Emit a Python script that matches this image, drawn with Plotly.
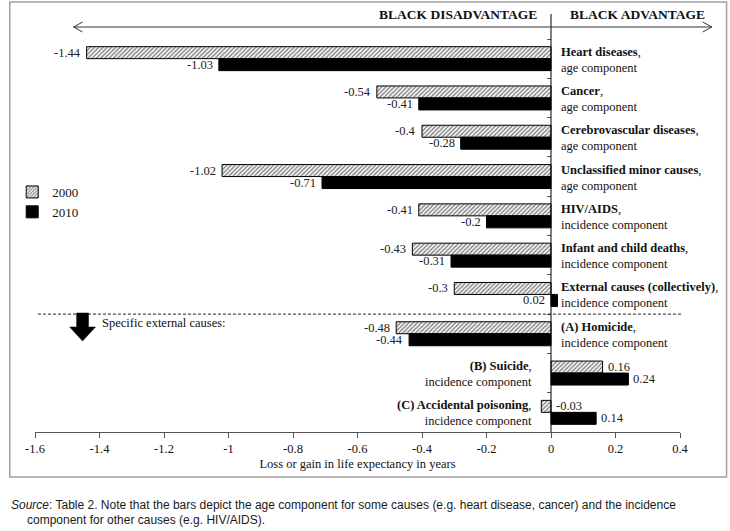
import plotly.graph_objects as go

# ---------------- data ----------------
causes = ["Heart diseases", "Cancer", "Cerebrovascular diseases",
          "Unclassified minor causes", "HIV/AIDS", "Infant and child deaths",
          "External causes (collectively)", "(A) Homicide", "(B) Suicide",
          "(C) Accidental poisoning"]
components = ["age component", "age component", "age component", "age component",
              "incidence component", "incidence component", "incidence component",
              "incidence component", "incidence component", "incidence component"]
values_2000 = [-1.44, -0.54, -0.4, -1.02, -0.41, -0.43, -0.3, -0.48, 0.16, -0.03]
values_2010 = [-1.03, -0.41, -0.28, -0.71, -0.2, -0.31, 0.02, -0.44, 0.24, 0.14]
label_side = ["right", "right", "right", "right", "right", "right", "right",
              "right", "left", "left"]
x_ticks = [-1.6, -1.4, -1.2, -1.0, -0.8, -0.6, -0.4, -0.2, 0.0, 0.2, 0.4]
x_tick_labels = ["-1.6", "-1.4", "-1.2", "-1", "-0.8", "-0.6", "-0.4", "-0.2",
                 "0", "0.2", "0.4"]
series_names = ["2000", "2010"]

# ---------------- layout constants ----------------
W, H = 730, 531
ML, MR, MT, MB = 29, 50, 39, 99
PW, PH = W - ML - MR, H - MT - MB
SERIF = "Liberation Serif, Times New Roman, serif"
SANS = "Liberation Sans, Arial, sans-serif"
XMIN, XMAX = x_ticks[0], x_ticks[-1]
zero_frac = (0 - XMIN) / (XMAX - XMIN)
FS = 12.5


def px(x):
    return (x - ML) / PW


def py(y):
    return (H - MB - y) / PH


ypos = list(range(len(causes)))

fig = go.Figure()
fig.add_trace(go.Bar(
    y=ypos, x=values_2000, orientation="h", name=series_names[0],
    legendgroup="a",
    marker=dict(color="white", line=dict(color="black", width=1),
                pattern=dict(shape="/", fgcolor="#111111", bgcolor="white",
                             size=3, solidity=0.5)),
))
fig.add_trace(go.Bar(
    y=ypos, x=values_2010, orientation="h", name=series_names[1],
    legendgroup="b",
    marker=dict(color="black", line=dict(color="black", width=1)),
))

annotations = []
# value labels
for i in ypos:
    side = label_side[i]
    for vals, ys in ((values_2000, 6), (values_2010, -6)):
        v = vals[i]
        if side == "right":
            xv, anchor, xs = min(v, 0), "right", -4
        else:
            xv, anchor, xs = max(v, 0), "left", 3
        annotations.append(dict(
            x=xv, y=i, xref="x", yref="y", text=f"{v:g}", showarrow=False,
            xanchor=anchor, yanchor="middle", xshift=xs, yshift=ys,
            font=dict(family=SERIF, size=FS, color="#222222")))
    # category labels
    txt = f"<b>{causes[i]}</b>,<br>{components[i]}"
    if side == "right":
        annotations.append(dict(
            x=0, y=i, xref="x", yref="y", text=txt, showarrow=False,
            xanchor="left", align="left", yanchor="middle", xshift=8, yshift=-1,
            font=dict(family=SERIF, size=FS, color="#111111")))
    else:
        annotations.append(dict(
            x=0, y=i, xref="x", yref="y", text=txt, showarrow=False,
            xanchor="right", align="right", yanchor="middle", xshift=-17, yshift=-1,
            font=dict(family=SERIF, size=FS, color="#111111")))

# header labels
annotations.append(dict(x=0, y=py(15), xref="x", yref="paper",
                        text="<b>BLACK DISADVANTAGE</b>", showarrow=False,
                        xanchor="right", yanchor="middle", xshift=-12,
                        font=dict(family=SERIF, size=13.5, color="#111111")))
annotations.append(dict(x=0, y=py(15), xref="x", yref="paper",
                        text="<b>BLACK ADVANTAGE</b>", showarrow=False,
                        xanchor="left", yanchor="middle", xshift=17,
                        font=dict(family=SERIF, size=13.5, color="#111111")))
annotations.append(dict(x=px(95), y=py(323), xref="paper", yref="paper",
                        text="Specific external causes:", showarrow=False,
                        xanchor="left", yanchor="middle",
                        font=dict(family=SERIF, size=FS, color="#111111")))
# source note
annotations.append(dict(x=px(3), y=py(505), xref="paper", yref="paper",
                        text="<i>Source</i>: Table 2. Note that the bars depict the age component "
                             "for some causes (e.g. heart disease, cancer) and the incidence",
                        showarrow=False, xanchor="left", yanchor="middle",
                        font=dict(family=SANS, size=12, color="#1a1a1a")))
annotations.append(dict(x=px(19), y=py(520), xref="paper", yref="paper",
                        text="component for other causes (e.g. HIV/AIDS).",
                        showarrow=False, xanchor="left", yanchor="middle",
                        font=dict(family=SANS, size=12, color="#1a1a1a")))

shapes = []
# outer border
shapes.append(dict(type="rect", xref="paper", yref="paper",
                   x0=px(3.5), x1=px(727), y0=py(2), y1=py(477),
                   line=dict(color="#a0a0a0", width=1.5), fillcolor="rgba(0,0,0,0)"))
# zero line
shapes.append(dict(type="line", xref="paper", yref="paper",
                   x0=zero_frac, x1=zero_frac, y0=0, y1=py(14),
                   line=dict(color="black", width=1)))
# double arrow
ay = 27
shapes.append(dict(type="line", xref="paper", yref="paper",
                   x0=px(68), x1=px(712), y0=py(ay), y1=py(ay),
                   line=dict(color="#333333", width=1)))
shapes.append(dict(type="path", xref="paper", yref="paper",
                   path=f"M{px(77)},{py(ay-5)} L{px(68)},{py(ay)} L{px(77)},{py(ay+5)}",
                   line=dict(color="#333333", width=1)))
shapes.append(dict(type="path", xref="paper", yref="paper",
                   path=f"M{px(703)},{py(ay-5)} L{px(712)},{py(ay)} L{px(703)},{py(ay+5)}",
                   line=dict(color="#333333", width=1)))
# dashed separator
shapes.append(dict(type="line", xref="paper", yref="y",
                   x0=px(32), x1=px(683), y0=6.5, y1=6.5,
                   line=dict(color="#222222", width=1, dash="3px,2px")))
# block down arrow
shapes.append(dict(type="path", xref="paper", yref="paper",
                   path=(f"M{px(71)},{py(313)} L{px(83)},{py(313)} L{px(83)},{py(327)} "
                         f"L{px(90)},{py(327)} L{px(77)},{py(341)} L{px(64)},{py(327)} "
                         f"L{px(71)},{py(327)} Z"),
                   fillcolor="black", line=dict(color="black", width=0.5)))

fig.update_layout(
    width=W, height=H,
    margin=dict(l=ML, r=MR, t=MT, b=MB),
    paper_bgcolor="white", plot_bgcolor="white",
    barmode="group", bargap=0.39, bargroupgap=0,
    showlegend=True,
    legend=dict(x=px(6), y=py(202), xanchor="left", yanchor="middle",
                font=dict(family=SERIF, size=13, color="#111111"),
                bgcolor="rgba(0,0,0,0)", tracegroupgap=3, traceorder="normal",
                itemwidth=30),
    annotations=annotations, shapes=shapes,
    xaxis=dict(range=[XMIN, XMAX], tickvals=x_ticks, ticktext=x_tick_labels,
               showgrid=False, zeroline=False, showline=True, linecolor="#555555",
               linewidth=1, ticks="outside", ticklen=5, tickcolor="#555555",
               tickfont=dict(family=SERIF, size=FS, color="#111111"),
               title=dict(text="Loss or gain in life expectancy in years",
                          font=dict(family=SERIF, size=FS, color="#111111"),
                          standoff=4)),
    yaxis=dict(range=[len(causes) - 0.5, -0.5], tickvals=[i - 0.5 for i in range(len(causes) + 1)],
               showticklabels=False, ticks="outside", ticklen=4, tickcolor="#555555",
               showgrid=False, zeroline=False, showline=False,
               anchor="free", position=zero_frac),
)

fig.write_html("out.html", config={"displayModeBar": False},
               post_script="document.body.style.margin='0';")
